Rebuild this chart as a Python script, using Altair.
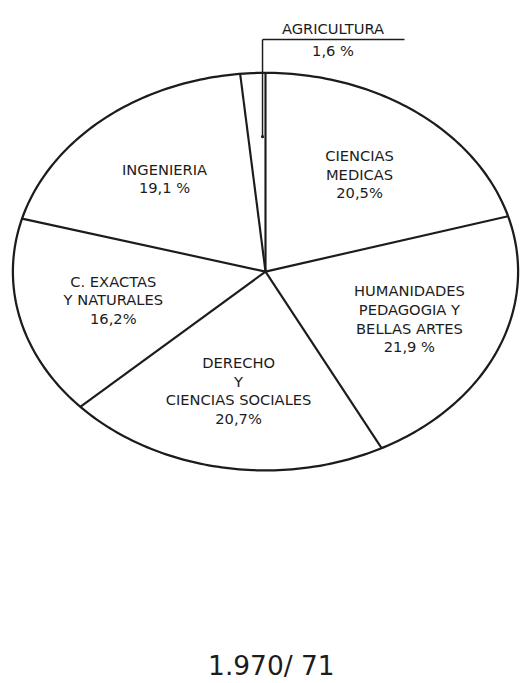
import altair as alt
import pandas as pd

# ---- data ----
names = [
    "CIENCIAS\nMEDICAS",
    "HUMANIDADES\nPEDAGOGIA Y\nBELLAS ARTES",
    "DERECHO\nY\nCIENCIAS  SOCIALES",
    "C. EXACTAS\nY  NATURALES",
    "INGENIERIA",
    "AGRICULTURA",
]
values = [20.5, 21.9, 20.7, 16.2, 19.1, 1.6]
pct_text = ["20,5%", "21,9 %", "20,7%", "16,2%", "19,1 %", "1,6 %"]
period = "1.970/ 71"

# ---- layout constants ----
W, H = 515, 680
CX, CY = 263, 262
RX, RY = 258, 203
INK = "#1c1c1c"
FONT = "DejaVu Sans"
FS = 15
LH = 19

df = pd.DataFrame({
    "name": names,
    "value": values,
    "pct": pct_text,
    "order": list(range(len(names))),
})
df["label"] = df["name"] + "\n" + df["pct"]

xs = alt.Scale(domain=[0, W], nice=False, zero=False)
ys = alt.Scale(domain=[0, H], nice=False, zero=False, reverse=True)

base = alt.Chart(df).transform_window(
    cum="sum(value)", sort=[alt.SortField("order")], frame=[None, 0]
).transform_calculate(
    start="(datum.cum - datum.value) / 100 * 2 * PI",
    mid="(datum.cum - datum.value / 2) / 100 * 2 * PI",
)

# ellipse outline
outline = alt.Chart(alt.sequence(0, 361, 1, as_="deg")).transform_calculate(
    ex=f"{CX} + {RX} * sin(datum.deg * PI / 180)",
    ey=f"{CY} - {RY} * cos(datum.deg * PI / 180)",
).mark_line(color=INK, strokeWidth=2.3).encode(
    x=alt.X("ex:Q", scale=xs, axis=None),
    y=alt.Y("ey:Q", scale=ys, axis=None),
    order="deg:Q",
)

# slice boundaries
spokes = base.transform_calculate(
    x0=f"{CX}", y0=f"{CY}",
    x1=f"{CX} + {RX} * sin(datum.start)",
    y1=f"{CY} - {RY} * cos(datum.start)",
).mark_rule(color=INK, strokeWidth=2.2).encode(
    x=alt.X("x0:Q", scale=xs, axis=None),
    y=alt.Y("y0:Q", scale=ys, axis=None),
    x2="x1:Q", y2="y1:Q",
)

# inside labels (multi-line block centred on the slice's mid-angle)
labels = base.transform_filter("datum.value > 5").transform_calculate(
    nlines="length(split(datum.label, '\\n'))",
).transform_calculate(
    lx=f"{CX} + {RX} * 0.62 * sin(datum.mid)",
    ly=f"{CY} - {RY} * 0.61 * cos(datum.mid) - (datum.nlines - 1) * {LH} / 2",
).mark_text(
    lineBreak="\n", font=FONT, fontSize=FS, lineHeight=LH,
    color=INK, align="center", baseline="middle",
).encode(
    x=alt.X("lx:Q", scale=xs, axis=None),
    y=alt.Y("ly:Q", scale=ys, axis=None),
    text="label:N",
)

# small slice: leader line and outside label
agri = base.transform_filter("datum.value < 5").transform_calculate(
    px=f"{CX} + {RX} * 0.62 * sin(datum.mid) + 5",
    py=f"{CY} - {RY} * 0.68 * cos(datum.mid)",
    ty="25",
).transform_calculate(
    hx="datum.px + 145",
    tx="datum.px + 72",
    ny="datum.ty - 11",
    vy="datum.ty + 12",
)
lead_v = agri.mark_rule(color=INK, strokeWidth=1.5).encode(
    x=alt.X("px:Q", scale=xs, axis=None),
    y=alt.Y("py:Q", scale=ys, axis=None),
    y2="ty:Q",
)
lead_h = agri.mark_rule(color=INK, strokeWidth=1.5).encode(
    x=alt.X("px:Q", scale=xs, axis=None),
    x2="hx:Q",
    y=alt.Y("ty:Q", scale=ys, axis=None),
)
lead_dot = agri.mark_point(filled=True, color=INK, size=10, opacity=1).encode(
    x=alt.X("px:Q", scale=xs, axis=None),
    y=alt.Y("py:Q", scale=ys, axis=None),
)
agri_name = agri.mark_text(font=FONT, fontSize=FS, color=INK, baseline="middle").encode(
    x=alt.X("tx:Q", scale=xs, axis=None),
    y=alt.Y("ny:Q", scale=ys, axis=None),
    text="name:N",
)
agri_pct = agri.mark_text(font=FONT, fontSize=FS, color=INK, baseline="middle").encode(
    x=alt.X("tx:Q", scale=xs, axis=None),
    y=alt.Y("vy:Q", scale=ys, axis=None),
    text="pct:N",
)

title = alt.Chart(pd.DataFrame({"t": [period]})).mark_text(
    font=FONT, fontSize=27, color=INK, baseline="alphabetic", align="center"
).encode(
    x=alt.value(CX + 6),
    y=alt.value(H - 6),
    text="t:N",
)

chart = alt.layer(
    outline, spokes, labels, lead_v, lead_h, lead_dot, agri_name, agri_pct, title
).properties(
    width=W, height=H, padding=0, background="white"
).configure_view(stroke=None)

chart.save("out.html", embed_options={"renderer": "svg", "actions": False})
